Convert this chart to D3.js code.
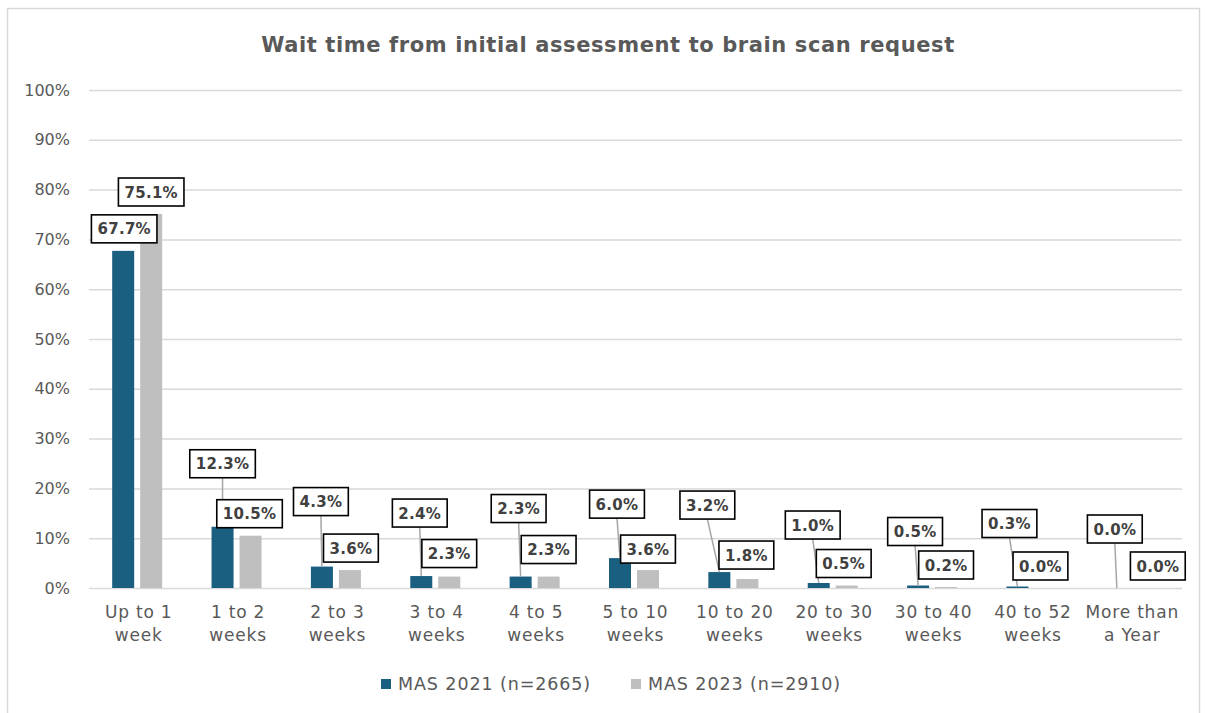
<!DOCTYPE html>
<html><head><meta charset="utf-8">
<script src="https://cdn.jsdelivr.net/npm/d3@7"></script>
<style>
html,body{margin:0;padding:0;background:#fff;}
svg{display:block;}
text{font-family:"DejaVu Sans",Verdana,sans-serif;}
</style></head>
<body>
<script>
const categories = [["Up to 1","week"],["1 to 2","weeks"],["2 to 3","weeks"],["3 to 4","weeks"],["4 to 5","weeks"],["5 to 10","weeks"],["10 to 20","weeks"],["20 to 30","weeks"],["30 to 40","weeks"],["40 to 52","weeks"],["More than","a Year"]];
const series2021 = [67.7,12.3,4.3,2.4,2.3,6.0,3.2,1.0,0.5,0.3,0.0];
const series2023 = [75.1,10.5,3.6,2.3,2.3,3.6,1.8,0.5,0.2,0.0,0.0];
const seriesNames = ["MAS 2021 (n=2665)","MAS 2023 (n=2910)"];
const yTicks = [0,10,20,30,40,50,60,70,80,90,100];
// label nudges (px) for the manually placed data labels
const lift2021 = [22,63,65,63,68,54,67,58,54,63,59];
const shift2021 = [1,0,-1,-1.5,-2,-3,-12,-6,-3,-8,-2];
const lift2023 = [22,22,22,23,27,21,24,22,22,22,22];
const shift2023 = [0,-1,1,0,0,0,-1,-3,0,-5,13];

const W=1205,H=713;
const colors=["#1A5E80","#BFBFBF"];
const svg=d3.select("body").append("svg").attr("width",W).attr("height",H);
svg.append("rect").attr("x",7.5).attr("y",8.5).attr("width",1192).attr("height",720)
  .attr("fill","#fff").attr("stroke","#D9D9D9").attr("stroke-width",1.5);

svg.append("text").attr("x",608).attr("y",52).attr("text-anchor","middle")
  .attr("font-size",21).attr("font-weight","bold").attr("fill","#595959").attr("letter-spacing",0.6)
  .text("Wait time from initial assessment to brain scan request");

const x=d3.scaleBand().domain(categories.map((d,i)=>i)).range([89,1182]);
const y=d3.scaleLinear().domain([0,100]).range([588,90]);

const yAxis=svg.append("g").attr("transform","translate(89,0)")
  .call(d3.axisLeft(y).tickValues(yTicks).tickSize(-(1182-89)).tickFormat(d=>d+"%").tickPadding(19));
yAxis.select(".domain").remove();
yAxis.selectAll(".tick line").attr("stroke","#D9D9D9").attr("stroke-width",1.5);
yAxis.selectAll(".tick text").attr("font-size",16).attr("fill","#595959").style("font-family","DejaVu Sans");

const bw=22,gap=6;
const cx=i=>x(i)+x.bandwidth()/2-1.5;
const g=svg.append("g");
[series2021,series2023].forEach((s,k)=>{
  g.selectAll(null).data(s).enter().append("rect")
   .attr("x",(d,i)=>k===0?cx(i)-gap/2-bw:cx(i)+gap/2)
   .attr("y",d=>y(d)).attr("width",bw).attr("height",d=>y(0)-y(d))
   .attr("fill",colors[k]);
});

// x labels
const xl=svg.append("g");
categories.forEach((c,i)=>{
  const t=xl.append("text").attr("x",x(i)+x.bandwidth()/2).attr("y",618).attr("text-anchor","middle")
    .attr("font-size",17).attr("letter-spacing",0.8).attr("fill","#595959");
  t.append("tspan").attr("x",x(i)+x.bandwidth()/2).attr("dy",0).text(c[0]);
  t.append("tspan").attr("x",x(i)+x.bandwidth()/2).attr("dy",23).text(c[1]);
});

// data labels
const lab=svg.append("g");
function label(val,bx,lift,shift){
  const ly=y(val)-lift, lx=bx+shift;
  const gg=lab.append("g");
  const t=gg.append("text").attr("x",lx).attr("y",ly+5.5).attr("text-anchor","middle")
    .attr("font-size",15).attr("font-weight","bold").attr("letter-spacing",0.3).attr("fill","#404040").text(val.toFixed(1)+"%");
  const bb=t.node().getBBox();
  const w=bb.width+12,h=28;
  if(lift>35){
    lab.insert("line",":first-child").attr("x1",lx).attr("y1",ly+h/2).attr("x2",bx).attr("y2",y(val))
      .attr("stroke","#A6A6A6").attr("stroke-width",1.5);
  }
  gg.insert("rect","text").attr("x",lx-w/2).attr("y",ly-h/2).attr("width",w).attr("height",h)
    .attr("fill","#fff").attr("stroke","#000").attr("stroke-width",1.6);
}
series2021.forEach((v,i)=>label(v,cx(i)-gap/2-bw/2,lift2021[i],shift2021[i]));
series2023.forEach((v,i)=>label(v,cx(i)+gap/2+bw/2,lift2023[i],shift2023[i]));

// legend
const lg=svg.append("g");
const lx0=[381,631];
seriesNames.forEach((n,k)=>{
  lg.append("rect").attr("x",lx0[k]).attr("y",679).attr("width",10).attr("height",10).attr("fill",colors[k]);
  lg.append("text").attr("x",lx0[k]+17).attr("y",690).attr("font-size",17.5).attr("letter-spacing",0.9).attr("fill","#595959").text(n);
});
</script>
</body></html>
